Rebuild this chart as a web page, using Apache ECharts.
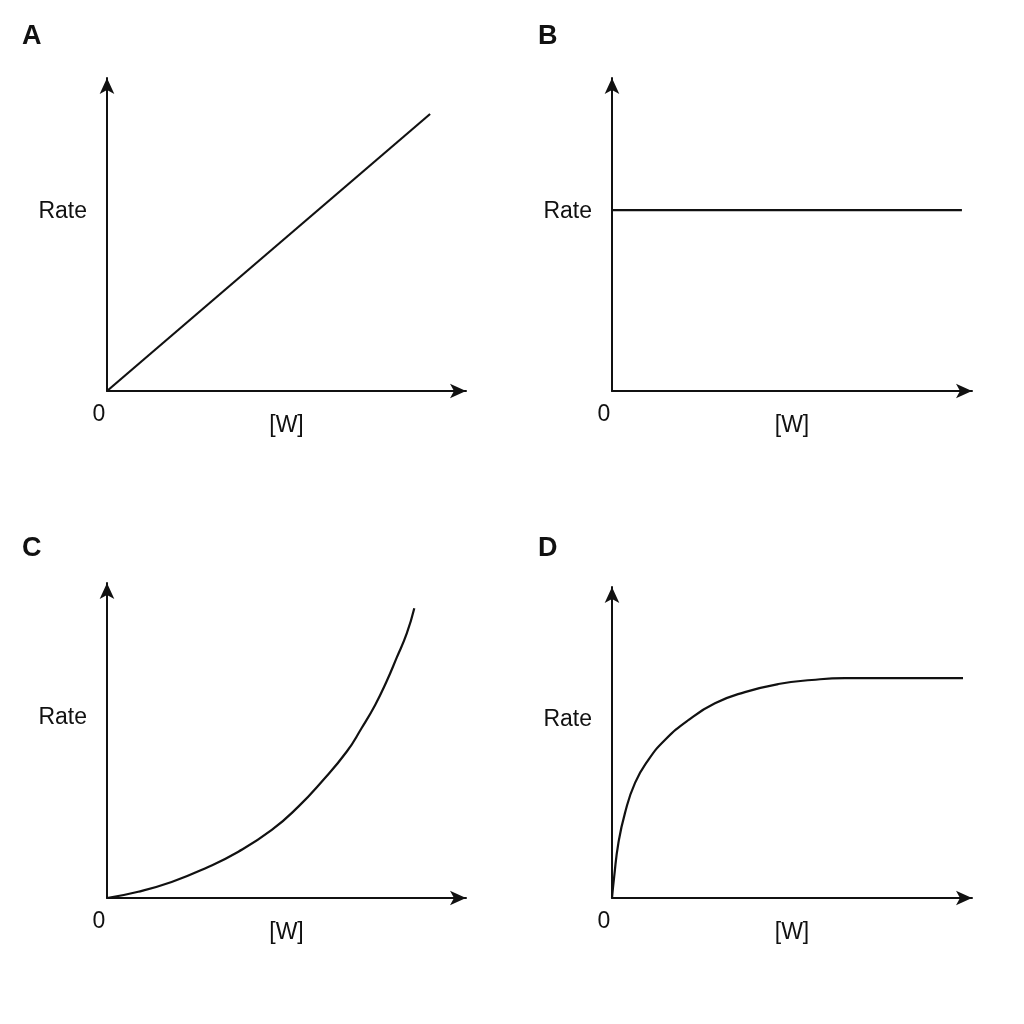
<!DOCTYPE html>
<html>
<head>
<meta charset="utf-8">
<title>Rate vs [W]</title>
<script src="https://cdn.jsdelivr.net/npm/echarts@6/dist/echarts.min.js"></script>
<style>
  html, body { margin: 0; padding: 0; background: #fff; }
  #main { width: 1024px; height: 1024px; }
</style>
</head>
<body>
<div id="main"></div>
<script>
// panel letters
var panelNames = ["A", "B", "C", "D"];
var xName = "[W]";
var yName = "Rate";
var originLabel = "0";

// A: straight line through origin
var dataA = [[0, 0], [9.0, 8.85]];
// B: constant rate
var dataB = [[0, 5.78], [9.72, 5.78]];
// C: upward curve
var dataC = [
  [0, 0], [0.87, 0.20], [1.80, 0.51], [2.73, 0.94], [3.66, 1.47], [4.59, 2.16],
  [5.33, 2.90], [5.98, 3.69], [6.68, 4.65], [7.09, 5.39], [7.47, 6.13],
  [7.79, 6.88], [8.07, 7.63], [8.35, 8.40], [8.56, 9.20]
];
// D: saturating curve
var dataD = [
  [0, 0], [0.06, 0.68], [0.175, 1.75], [0.36, 2.73], [0.64, 3.70], [1.01, 4.44],
  [1.47, 5.08], [2.12, 5.72], [2.86, 6.26], [3.69, 6.62], [4.62, 6.88],
  [5.55, 7.01], [6.47, 7.07], [9.75, 7.07]
];

var fontFam = "Liberation Sans, Arial, sans-serif";
var ink = "#111";

// grid boxes (px), arrow tips sit on the grid edge
var grids = [
  { left: 107, top: 78, width: 359, height: 313 },
  { left: 612, top: 78, width: 360, height: 313 },
  { left: 107, top: 583, width: 359, height: 315 },
  { left: 612, top: 587, width: 360, height: 311 }
];
var letterPos = [[17, 18], [533, 18], [17, 530], [533, 530]];

var axisLine = {
  show: true,
  onZero: false,
  symbol: ["none", "arrow"],
  symbolSize: [11, 16],
  lineStyle: { color: ink, width: 2 }
};

var xAxes = [], yAxes = [], titles = [];
for (var i = 0; i < 4; i++) {
  xAxes.push({
    gridIndex: i, type: "value", min: 0, max: 10, interval: 10,
    axisLine: axisLine, axisTick: { show: false }, splitLine: { show: false },
    axisLabel: {
      margin: 12, color: ink, fontSize: 23, fontFamily: fontFam,
      padding: [0, 16, 0, 0],
      formatter: function(v) { return v === 0 ? originLabel : ""; }
    },
    name: xName, nameLocation: "middle", nameGap: 23, nameMoveOverlap: false,
    nameTextStyle: { color: ink, fontSize: 23, fontFamily: fontFam }
  });
  yAxes.push({
    gridIndex: i, type: "value", min: 0, max: 10,
    axisLine: axisLine, axisTick: { show: false }, splitLine: { show: false },
    axisLabel: { show: false },
    name: yName, nameLocation: "middle", nameRotate: 0, nameGap: 20,
    // lift the name above the middle of the axis
    nameTextStyle: {
      color: ink, fontSize: 23, fontFamily: fontFam,
      verticalAlign: "bottom", lineHeight: 45
    }
  });
  titles.push({
    text: panelNames[i], left: letterPos[i][0], top: letterPos[i][1],
    textStyle: { color: ink, fontSize: 27, fontWeight: "bold", fontFamily: fontFam }
  });
}

function lineSeries(idx, data, smooth) {
  return {
    type: "line", xAxisIndex: idx, yAxisIndex: idx, data: data,
    showSymbol: false, smooth: smooth,
    lineStyle: { color: ink, width: 2.2 }
  };
}

var myChart = echarts.init(document.getElementById("main"));
var option = {
  backgroundColor: "#fff",
  animation: false,
  title: titles,
  grid: grids,
  xAxis: xAxes,
  yAxis: yAxes,
  series: [
    lineSeries(0, dataA, false),
    lineSeries(1, dataB, false),
    lineSeries(2, dataC, 0.5),
    lineSeries(3, dataD, 0.5)
  ]
};
myChart.setOption(option);
</script>
</body>
</html>
